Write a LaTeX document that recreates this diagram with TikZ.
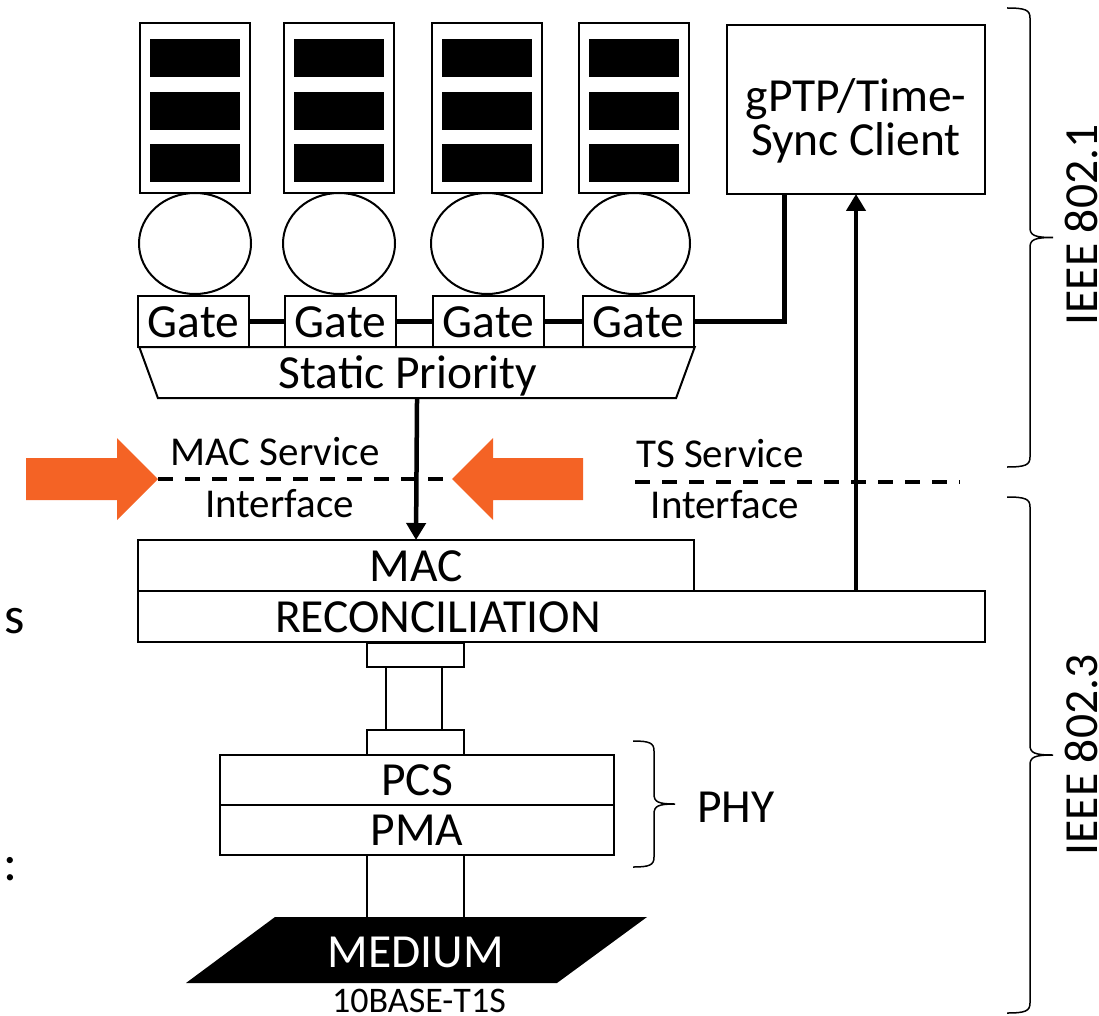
\documentclass[tikz,border=0pt]{standalone}
\usepackage{fontspec}
\setmainfont{Carlito}
\usetikzlibrary{arrows.meta,shapes.geometric}
\newcommand{\lyrfont}{\fontsize{47.5pt}{44pt}\selectfont}
\newcommand{\ifcfont}{\fontsize{41pt}{41pt}\selectfont}
\newcommand{\medfont}{\fontsize{36pt}{36pt}\selectfont}
\newcommand{\sidefont}{\fontsize{52pt}{52pt}\selectfont}
\definecolor{arrorange}{RGB}{244,99,37}

\begin{document}
\begin{tikzpicture}[x=1pt, y=-1pt,
  frame/.style={draw, line width=2pt, inner sep=0pt, outer sep=0pt},
  box/.style={frame, font=\lyrfont, text height=35pt, text depth=4pt},
  queue/.style={draw, line width=2.5pt, minimum width=110pt, minimum height=170pt, inner sep=0pt},
  bar/.style={fill=black, minimum width=90pt, minimum height=38pt, inner sep=0pt},
  slot/.style={draw, ellipse, line width=2pt, minimum width=112pt, minimum height=101pt, inner sep=0pt},
  link/.style={line width=5pt},
  arr/.style={line width=4.5pt, -{Triangle[width=19pt,length=17pt]}},
  ifc/.style={line width=3.5pt, dash pattern=on 15pt off 12pt},
  brc/.style={line width=1.5pt},
  txt/.style={inner sep=0pt, anchor=base}]
\useasboundingbox (0,0) rectangle (1099,1016);

% queues, transmission selection and gates
\foreach \i/\x/\gx in {1/195/193.5, 2/339/340.5, 3/487/488.5, 4/634/638.5} {
  \node[queue] (q\i) at (\x,108) {};
  \foreach \y [count=\j] in {58,111,163} \node[bar] (q\i b\j) at (\x,\y) {};
  \node[slot] (c\i) at (\x,243.5) {};
  \node[box, minimum width=111pt, minimum height=51pt] (g\i) at (\gx,321.5) {Gate};
}
\foreach \a/\b in {1/2,2/3,3/4} \draw[link] (g\a.east) -- (g\b.west);

\node[box, trapezium, trapezium angle=75.7, shape border rotate=180, trapezium stretches=true,
  minimum width=558pt, minimum height=51pt] (prio) at (417,372.5) {Static Priority\hspace*{18pt}};

% time sync
\node[frame, minimum width=258pt, minimum height=169pt] (gptp) at (856,109.5) {};
\node[font=\lyrfont, align=center, inner sep=0pt] (gptptxt) at (856,121) {gPTP/Time-\\Sync Client};
\coordinate (sync) at ([xshift=57pt]gptp.south west);
\draw[link] (g4.east) -| (sync);

% service interfaces
\fill[arrorange] (26,458) -- (117,458) -- (117,438) -- (158,479) -- (117,520) -- (117,500) -- (26,500) -- cycle;
\fill[arrorange] (583,458) -- (493,458) -- (493,438) -- (452,479) -- (493,520) -- (493,500) -- (583,500) -- cycle;
\coordinate (ltip) at (158,479);
\coordinate (rtip) at (452,479);
\coordinate (ts1) at (635,482);
\coordinate (ts2) at (960,482);
\draw[ifc] (ltip) -- (rtip);
\draw[ifc] (ts1) -- (ts2);
\node[txt, font=\ifcfont] at (275,465) {MAC Service};
\node[txt, font=\ifcfont] at (279.5,517) {Interface};
\node[txt, font=\ifcfont] at (720,467) {TS Service};
\node[txt, font=\ifcfont] at (725,518) {Interface};

% MAC and PHY stack
\node[box, minimum width=556pt, minimum height=51pt] (mac) at (416,565.5) {MAC};
\node[frame, minimum width=847pt, minimum height=51pt] (recon) at (561.5,616.5) {};
\node[font=\lyrfont, inner sep=0pt, text height=35pt, text depth=4pt] at (438,616.5) {RECONCILIATION};
\draw[arr] (prio.south) -- (mac.north);
\draw[arr] (recon.north -| gptp.south) -- (gptp.south);

\node[frame, minimum width=97pt, minimum height=24pt] (rs1) at (415.5,655) {};
\node[frame, minimum width=56pt, minimum height=63pt] (mii) at (414,698.5) {};
\node[frame, minimum width=97pt, minimum height=25pt] (rs2) at (415.5,742.5) {};
\node[box, minimum width=394pt, minimum height=50pt] (pcs) at (417,780) {PCS};
\node[box, minimum width=394pt, minimum height=50pt] (pma) at (417,830) {PMA};

\fill (275,917) -- (647,917) -- (557,983) -- (186,983) -- cycle;
\coordinate (medtop) at (416,917);
\node[font=\lyrfont, text=white, inner sep=0pt] (medium) at (416,952) {MEDIUM};
\node[txt, font=\medfont] at (419,1012) {10BASE-T1S};
\draw[line width=2pt] (pma.south -| rs2.west) -- (medtop -| rs2.west);
\draw[line width=2pt] (pma.south -| rs2.east) -- (medtop -| rs2.east);

% braces
\foreach \xa/\ya/\yb/\w in {633/741/867/42, 1007/8/467/46, 1007/497/1013/46} {
  \pgfmathsetmacro{\ym}{(\ya+\yb)/2}
  \draw[brc] (\xa,\ya) .. controls ({\xa+0.4*\w},\ya) and ({\xa+\w/2},{\ya+2}) .. ({\xa+\w/2},{\ya+10})
    -- ({\xa+\w/2},{\ym-10}) .. controls ({\xa+\w/2},{\ym-2}) and ({\xa+0.6*\w},\ym) .. ({\xa+\w},\ym)
    .. controls ({\xa+0.6*\w},\ym) and ({\xa+\w/2},{\ym+2}) .. ({\xa+\w/2},{\ym+10})
    -- ({\xa+\w/2},{\yb-10}) .. controls ({\xa+\w/2},{\yb-2}) and ({\xa+0.4*\w},\yb) .. (\xa,\yb);
}
\node[txt, anchor=base west, font=\lyrfont] at (697,822) {PHY};
\node[rotate=90, font=\lyrfont, inner sep=0pt] at (1081,225) {IEEE 802.1};
\node[rotate=90, font=\lyrfont, inner sep=0pt] at (1081,755) {IEEE 802.3};

\node[txt, anchor=base west, font=\sidefont] at (4,633) {s};
\node[txt, anchor=base west, font=\sidefont] at (3,880) {:};
\end{tikzpicture}
\end{document}
